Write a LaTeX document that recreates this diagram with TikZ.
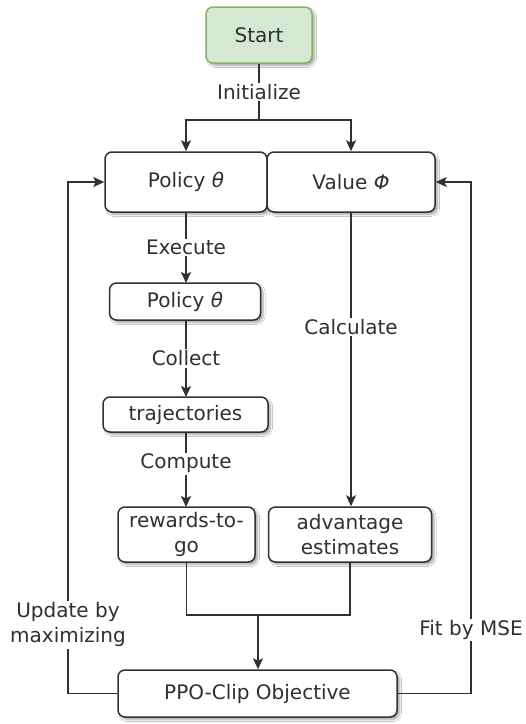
\documentclass[tikz,border=0pt]{standalone}
\usepackage{fontspec}
\setmainfont{DejaVu Sans}
\usetikzlibrary{arrows.meta,shadows.blur}
\definecolor{ink}{HTML}{303030}
\definecolor{startfill}{HTML}{D5E8D4}
\definecolor{startline}{HTML}{82B366}
\begin{document}
\begin{tikzpicture}[x=1pt,y=-1pt,
  font=\fontsize{20}{25}\selectfont, text=ink,
  box/.style={draw=ink, line width=1.5pt, fill=white, rounded corners=7pt,
    align=center, inner sep=2pt,
    blur shadow={shadow xshift=2.5pt, shadow yshift=-2.5pt,
      shadow blur steps=6, shadow blur radius=2pt, shadow opacity=35}},
  startbox/.style={box, fill=startfill, draw=startline},
  link/.style={draw=ink, line width=1.4pt},
  arr/.style={link, -{Stealth[length=11pt, width=10pt, inset=2.5pt]}},
  lbl/.style={fill=white, inner sep=1.5pt, align=center}]

\useasboundingbox[fill=white] (0,0) rectangle (526,724);

% boxes
\node[startbox, minimum width=106pt, minimum height=56pt] (start) at (259,35) {Start};
\node[box, minimum width=162pt, minimum height=60pt] (policy) at (186,182) {Policy \textit{θ}};
\node[box, minimum width=168pt, minimum height=60pt] (value) at (351,182) {Value \textit{Φ}};
\node[box, minimum width=151pt, minimum height=37pt] (exec) at (185,301.5) {Policy \textit{θ}};
\node[box, minimum width=165pt, minimum height=35pt] (traj) at (185.5,414.5) {trajectories};
\node[box, minimum width=137pt, minimum height=55pt] (rtg) at (186.5,534.5) {rewards-to-\\go};
\node[box, minimum width=163pt, minimum height=55pt] (adv) at (350,534.5) {advantage\\estimates};
\node[box, minimum width=279pt, minimum height=47pt] (ppo) at (257.5,693.5) {PPO-Clip Objective};

% junction points
\coordinate (split) at (259,120);
\coordinate (merge) at (258,615);

% initialisation
\draw[link] (start.south) -- node[lbl, pos=0.5]{Initialize} (split);
\draw[arr] (split) -| (policy.north);
\draw[arr] (split) -| (value.north);

% rollout column
\draw[arr] (186,212) -- node[lbl]{Execute} (186,283);
\draw[arr] (186,320) -- node[lbl]{Collect} (186,397);
\draw[arr] (186,432) -- node[lbl, pos=0.42]{Compute} (186,507);

% value column
\draw[arr] (value.south) -- node[lbl, pos=0.39]{Calculate} (value.south |- adv.north);

% merge into the objective
\draw[link] (rtg.south) |- (merge);
\draw[link] (adv.south) |- (merge);
\draw[arr] (merge) -- (merge |- ppo.north);

% update loops
\draw[arr] (ppo.west) -| node[lbl, pos=0.567]{Update by\\maximizing} (68,182) -- (policy.west);
\draw[arr] (ppo.east) -| node[lbl, pos=0.562]{Fit by MSE} (471,182) -- (value.east);

\end{tikzpicture}
\end{document}
